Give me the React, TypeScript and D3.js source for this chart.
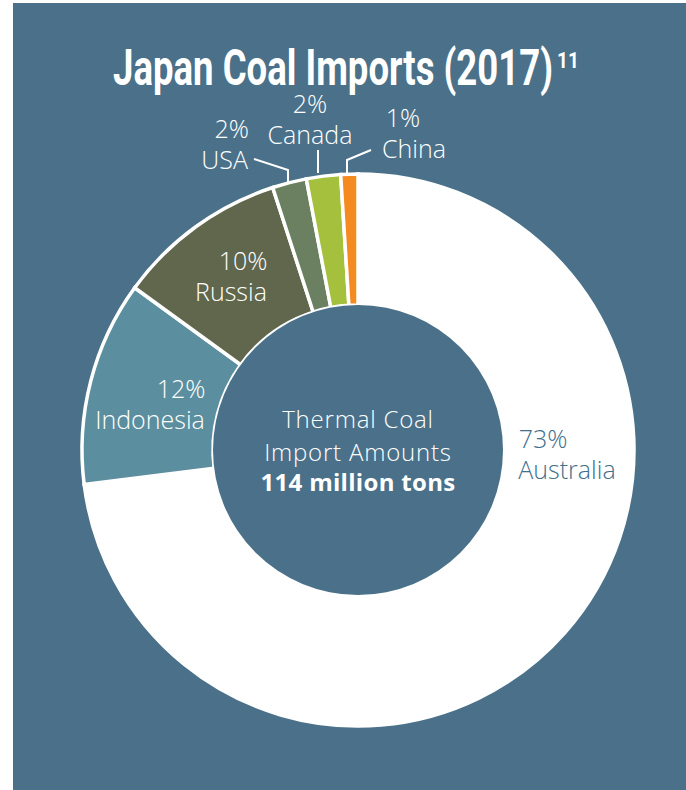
// @ts-nocheck
import React from 'react';
import * as d3 from 'd3';

const countries = ['Australia', 'Indonesia', 'Russia', 'USA', 'Canada', 'China'];
const shares = [73, 12, 10, 2, 2, 1];
const sliceColors = ['#ffffff', '#5b8f9f', '#60674d', '#6a8060', '#a5c03c', '#f58a20'];
const centerLines = ['Thermal Coal', 'Import Amounts'];
const centerTotal = '114 million tons';

// label placement (pct line, name line) per country
const labelLayout = {
    Australia: { x: 543, y: 448, anchor: 'middle', dx2: 24, color: '#41708c' },
    Indonesia: { x: 181, y: 398, anchor: 'middle', dx2: -31, color: '#ffffff' },
    Russia: { x: 243, y: 270, anchor: 'middle', dx2: -12, color: '#ffffff' },
    USA: { x: 249, y: 138, anchor: 'end', dx2: -1, color: '#ffffff' },
    Canada: { x: 310, y: 113, anchor: 'middle', dx2: 0, color: '#ffffff' },
    China: { x: 403, y: 127, anchor: 'middle', dx2: 11, color: '#ffffff' }
};

const leaders = {
    USA: [[254, 159], [288, 170], [288, 182]],
    Canada: [[318, 150], [318, 173]],
    China: [[371, 150], [347, 160], [347, 173]]
};

export default function App() {
    const W = 686;
    const H = 790;
    const cx = 358;
    const cy = 450;
    const outerR = 276;
    const innerR = 145;
    const bg = '#4a7189';
    const font = '"Open Sans", Lato, sans-serif';
    const titleFont = '"Liberation Sans Narrow", "Roboto", sans-serif';

    const data = countries.map((c, i) => ({ name: c, value: shares[i], color: sliceColors[i] }));
    const pie = d3.pie().sort(null).value((d) => d.value);
    const arc = d3.arc().innerRadius(innerR).outerRadius(outerR);
    const arcs = pie(data);

    const line = d3.line();

    return (
        <div style={{ position: 'absolute', left: 0, top: 0 }}>
            <svg width={W} height={H}>
                <rect x={0} y={0} width={W} height={H} fill="#ffffff" />
                <rect x={13} y={3} width={W - 13} height={H - 3} fill={bg} />
                <text x={113} y={85} fill="#fff" fontFamily={titleFont}
                    fontWeight="bold" fontSize={50} textLength={440} lengthAdjust="spacingAndGlyphs">
                    Japan Coal Imports (2017)
                </text>
                <text x={557} y={68} fill="#fff" fontFamily={titleFont}
                    fontWeight="bold" fontSize={22} textLength={22} lengthAdjust="spacingAndGlyphs">11</text>
                <g transform={`translate(${cx}, ${cy})`}>
                    {arcs.map((a) => (
                        <path key={a.data.name} d={arc(a)} fill={a.data.color} stroke="#ffffff" strokeWidth={3.5} />
                    ))}
                    <circle r={innerR} fill={bg} />
                </g>
                {Object.keys(leaders).map((k) => (
                    <path key={k} d={line(leaders[k])} fill="none" stroke="#fff" strokeWidth={2} />
                ))}
                {arcs.map((a) => {
                    const l = labelLayout[a.data.name];
                    return (
                        <g key={a.data.name} fill={l.color} fontFamily={font} fontWeight={300} fontSize={25}
                            textAnchor={l.anchor}>
                            <text x={l.x} y={l.y}>{a.data.value}%</text>
                            <text x={l.x + l.dx2} y={l.y + 31}>{a.data.name}</text>
                        </g>
                    );
                })}
                <g fill="#fff" fontFamily={font} fontSize={24} textAnchor="middle">
                    {centerLines.map((t, i) => (
                        <text key={t} x={cx} y={428 + i * 33} fontWeight={300} letterSpacing={0.8}>{t}</text>
                    ))}
                    <text x={cx} y={491} fontWeight="bold" letterSpacing={0.3}>{centerTotal}</text>
                </g>
            </svg>
        </div>
    );
}
